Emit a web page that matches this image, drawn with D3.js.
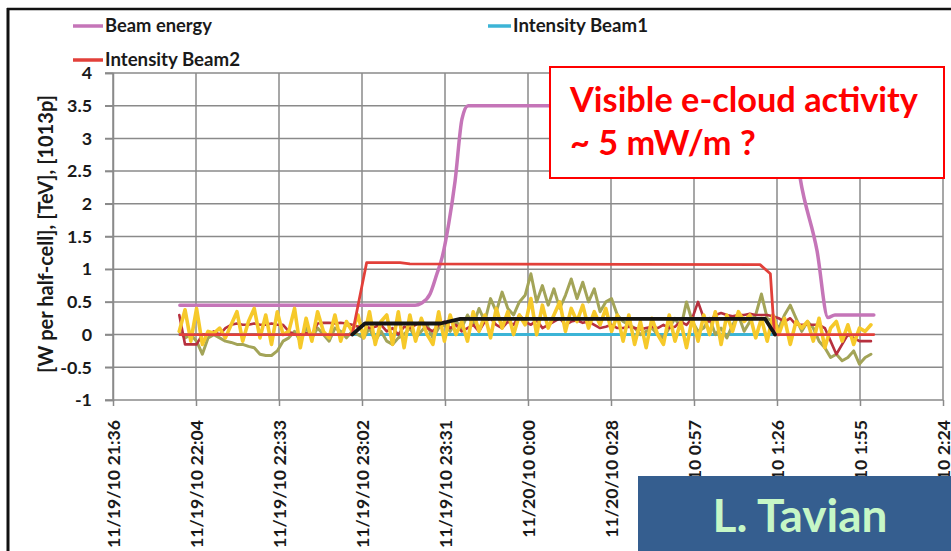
<!DOCTYPE html>
<html><head><meta charset="utf-8">
<script src="https://cdn.jsdelivr.net/npm/d3@7"></script>
<style>
body{margin:0;background:#fff;}
svg{display:block;font-family:Lato,'Open Sans',sans-serif;font-weight:bold;}
</style>
</head><body>
<svg id="c" width="951" height="551"></svg>
<script>
// ---------- data ----------
const tickLabels = ["11/19/10 21:36","11/19/10 22:04","11/19/10 22:33","11/19/10 23:02","11/19/10 23:31",
  "11/20/10 0:00","11/20/10 0:28","11/20/10 0:57","11/20/10 1:26","11/20/10 1:55","11/20/10 2:24"];
const yTicks = [-1,-0.5,0,0.5,1,1.5,2,2.5,3,3.5,4];
const legendNames = ["Beam energy","Intensity Beam1","Intensity Beam2"];

// times in minutes after 11/19/10 21:36
const energyTimes  = [23.2,104.8,107,110,112.4,114.2,116.5,118.7,121.1,123.2,234.9,238.4,244.3,248.1,250.5,264];
const energyValues = [0.45,0.45,0.48,0.62,0.93,1.18,1.7,2.35,3.3,3.5,3.5,2.4,1.28,0.26,0.3,0.3];

const beam1Times  = [23.2,229.7];
const beam1Values = [0,0];

const beam2Times  = [23.2,83,88,99.6,103,224.5,228.1,229.5,264];
const beam2Values = [0,0,1.1,1.1,1.08,1.07,0.93,0,0];

const avgTimes  = [83,87.4,113.6,120.5,226.3,229.7];
const avgValues = [0,0.17,0.17,0.24,0.24,0];

// noisy heat-load series, one sample every 2 minutes from minute 23
const noisyStart = 23, noisyStep = 2;
const yellowValues = [
  0.05,0.38,-0.1,0.4,-0.15,0.05,0.02,0.1,-0.05,0.15,
  0.35,-0.1,0.2,0.4,-0.05,0.3,-0.15,0.35,0.0,0.05,
  0.4,-0.2,0.25,-0.1,0.35,0.05,-0.05,0.3,-0.1,0.2,
  0.05,0.3,-0.05,0.35,-0.15,0.2,0.3,-0.15,0.35,-0.2,
  0.3,-0.1,0.25,0.0,-0.15,0.35,-0.1,0.3,0.0,0.2,
  -0.1,0.35,0.05,0.3,-0.05,0.4,0.1,0.35,0.0,0.3,
  0.15,0.55,0.0,0.45,0.1,0.3,0.5,0.05,0.4,0.2,
  0.45,0.1,0.35,0.15,0.4,0.05,0.3,-0.1,0.3,-0.15,
  0.2,-0.2,0.25,0.0,-0.15,0.3,-0.1,0.2,-0.2,0.25,
  -0.1,0.3,0.0,0.35,-0.15,0.3,0.05,0.35,0.2,0.3,
  -0.05,0.25,-0.1,0.3,0.0,0.25,-0.15,0.2,0.1,0.2,
  -0.1,0.25,-0.2,0.1,0.2,-0.1,0.15,-0.15,0.1,0.05,0.15];
const oliveValues = [
  0.05,-0.05,0.0,-0.1,-0.3,-0.05,0.0,-0.05,-0.1,-0.12,
  -0.15,-0.15,-0.18,-0.2,-0.3,-0.32,-0.32,-0.25,-0.1,-0.05,
  0.05,-0.1,0.1,-0.05,0.1,0.0,-0.1,0.1,0.05,-0.05,
  0.05,0.0,-0.05,0.1,-0.1,0.05,-0.1,-0.15,-0.05,0.0,
  0.1,-0.05,0.05,0.15,-0.05,0.1,0.15,0.05,0.2,0.1,
  0.3,0.15,0.4,0.2,0.55,0.35,0.65,0.4,0.3,0.5,
  0.6,0.93,0.5,0.75,0.45,0.7,0.4,0.6,0.85,0.55,
  0.8,0.5,0.7,0.35,0.5,0.55,0.3,0.2,0.15,0.1,
  0.0,0.05,0.1,0.0,-0.05,0.1,0.25,0.1,0.5,0.2,
  0.05,0.1,0.25,0.0,0.1,-0.05,0.15,0.3,0.05,0.2,
  0.3,0.62,0.25,0.2,0.1,0.3,0.45,0.25,0.05,0.2,
  0.1,-0.1,-0.2,-0.35,-0.3,-0.4,-0.35,-0.25,-0.45,-0.35,-0.3];
const darkRedValues = [
  0.3,-0.15,-0.15,-0.15,0.0,0.0,0.05,0.0,0.1,0.15,
  0.17,0.15,0.15,0.17,0.15,0.15,0.17,0.15,0.15,0.05,
  0.0,0.0,0.02,0.0,0.17,0.18,0.18,0.17,0.18,0.17,
  0.15,0.12,0.15,0.1,0.12,0.15,0.05,0.1,0.0,0.12,
  0.1,0.15,0.2,0.1,0.05,0.15,0.2,0.1,0.15,0.05,
  0.1,0.15,0.05,0.2,0.25,0.15,0.1,0.2,0.15,0.3,
  0.2,0.15,0.22,0.1,0.15,0.2,0.25,0.15,0.2,0.22,
  0.18,0.2,0.15,0.1,0.12,0.15,0.1,0.1,0.12,0.1,
  0.08,0.1,0.12,0.1,0.15,0.1,0.12,0.2,0.15,0.25,
  0.5,0.25,0.2,0.3,0.33,0.3,0.28,0.3,0.3,0.32,
  0.3,0.3,0.3,0.28,0.25,0.2,0.25,0.15,0.15,0.15,
  0.15,0.15,0.1,-0.1,-0.3,-0.15,0.0,-0.05,-0.1,-0.1,-0.1];

// ---------- chart ----------
const svg = d3.select("#c");
const base = new Date(2010,10,19,21,36);
const toDate = m => new Date(base.getTime() + m*60000);
const dayMs = 86400000;
const tickDates = tickLabels.map((l,i) => new Date(base.getTime() + i*0.02*dayMs));

const x = d3.scaleTime().domain([tickDates[0], tickDates[tickDates.length-1]]).range([113,943]);
const y = d3.scaleLinear().domain([-1,4]).range([400,73]);
const gridCol = "#8a8a8a";

function fit(sel, w){
  sel.style("font-size","20px");
  const L = sel.node().getComputedTextLength();
  const fs = 20*w/L;
  sel.style("font-size", fs+"px");
  return fs;
}

// horizontal grid
svg.append("g").selectAll("line").data(yTicks.filter(v=>v>-1)).join("line")
  .attr("x1",105).attr("x2",943).attr("y1",d=>y(d)).attr("y2",d=>y(d))
  .attr("stroke",gridCol).attr("stroke-width",1.5);
// vertical grid
svg.append("g").selectAll("line").data(tickDates).join("line")
  .attr("x1",d=>x(d)).attr("x2",d=>x(d)).attr("y1",73).attr("y2",400)
  .attr("stroke",gridCol).attr("stroke-width",1.5);

// y axis
const yAxis = svg.append("g").attr("transform","translate(113,0)")
  .call(d3.axisLeft(y).tickValues(yTicks).tickSize(8).tickPadding(13).tickFormat(d=>String(d)));
yAxis.select(".domain").attr("stroke",gridCol).attr("stroke-width",1.5);
yAxis.selectAll(".tick line").attr("stroke",gridCol).attr("stroke-width",1.5);
yAxis.selectAll("text").attr("fill","#1a1a1a").style("font-family","Lato,sans-serif").style("font-weight","bold");
const yfs = fit(yAxis.selectAll("text").filter(d=>d===3.5), 25);
yAxis.selectAll("text").style("font-size", yfs+"px");

// x axis
const xAxis = svg.append("g").attr("transform","translate(0,400)")
  .call(d3.axisBottom(x).tickValues(tickDates).tickSize(6).tickFormat((d,i)=>tickLabels[i]));
xAxis.select(".domain").attr("stroke",gridCol).attr("stroke-width",1.5).attr("d","M105,0H943");
xAxis.selectAll(".tick line").attr("stroke",gridCol).attr("stroke-width",1.5);
xAxis.selectAll("text").attr("fill","#1a1a1a").style("font-family","Lato,sans-serif").style("font-weight","bold")
  .attr("transform","rotate(-90)").attr("text-anchor","end").attr("x",-20).attr("y",0).attr("dy","0.36em");
const xfs = fit(xAxis.select(".tick text"), 128);
xAxis.selectAll("text").style("font-size", xfs+"px");

// y title
const yt = svg.append("text").attr("transform","translate(46,234) rotate(-90)")
  .attr("text-anchor","middle").attr("dy","0.36em").attr("fill","#1a1a1a")
  .text("[W per half-cell], [TeV], [1013p]");
fit(yt, 278);

// series
const line = d3.line().x(d=>x(toDate(d[0]))).y(d=>y(d[1]));
const smooth = d3.line().x(d=>x(toDate(d[0]))).y(d=>y(d[1])).curve(d3.curveMonotoneX);
const zip = (t,v) => v.map((val,i)=>[t[i],val]);
const noisyZip = v => v.map((val,i)=>[noisyStart+i*noisyStep,val]);

const plot = svg.append("g").attr("fill","none").attr("stroke-linejoin","round").attr("stroke-linecap","round");
plot.append("path").attr("d",smooth(zip(energyTimes,energyValues))).attr("stroke","#c575b8").attr("stroke-width",3.5);
plot.append("path").attr("d",line(zip(beam1Times,beam1Values))).attr("stroke","#3cb4d6").attr("stroke-width",3);
plot.append("path").attr("d",line(noisyZip(oliveValues))).attr("stroke","#a3a458").attr("stroke-width",3);
plot.append("path").attr("d",line(noisyZip(darkRedValues))).attr("stroke","#b7303e").attr("stroke-width",2.6);
plot.append("path").attr("d",line(noisyZip(yellowValues))).attr("stroke","#f6c92a").attr("stroke-width",3.6);
plot.append("path").attr("d",line(zip(beam2Times,beam2Values))).attr("stroke","#e2403a").attr("stroke-width",2.8);
plot.append("path").attr("d",line(zip(avgTimes,avgValues))).attr("stroke","#151515").attr("stroke-width",3.8);

// legend
const legendItems = [
  {name:legendNames[0], col:"#c575b8", lx:73, tx:105, y:26, w:107},
  {name:legendNames[1], col:"#3cb4d6", lx:488, tx:513, y:26, w:135},
  {name:legendNames[2], col:"#e2403a", lx:73, tx:105, y:60, w:135}
];
const lg = svg.append("g");
legendItems.forEach(it=>{
  lg.append("line").attr("x1",it.lx).attr("x2",it.tx-2).attr("y1",it.y).attr("y2",it.y)
    .attr("stroke",it.col).attr("stroke-width",3.5);
  const t = lg.append("text").attr("x",it.tx).attr("y",it.y).attr("dy","0.34em").attr("fill","#1a1a1a").text(it.name);
  fit(t,it.w);
});

// annotation
svg.append("rect").attr("x",550).attr("y",67).attr("width",394).attr("height",111)
  .attr("fill","#fff").attr("stroke","#ff0000").attr("stroke-width",2);
const a1 = svg.append("text").attr("x",570).attr("y",112).attr("fill","#ff0000").text("Visible e-cloud activity");
const afs = fit(a1, 348);
svg.append("text").attr("x",570).attr("y",155).attr("fill","#ff0000").style("font-size",afs+"px").text("~ 5 mW/m ?");

// author box
svg.append("rect").attr("x",638).attr("y",476).attr("width",313).attr("height",75).attr("fill","#355e8f");
const au = svg.append("text").attr("x",800).attr("y",532).attr("text-anchor","middle").attr("fill","#c6f7c6").text("L. Tavian");
fit(au,175);

// frame
svg.append("line").attr("x1",7).attr("x2",951).attr("y1",9).attr("y2",9).attr("stroke","#111").attr("stroke-width",2.5);
svg.append("line").attr("x1",8).attr("x2",8).attr("y1",8).attr("y2",551).attr("stroke","#111").attr("stroke-width",3);
</script>
</body></html>
